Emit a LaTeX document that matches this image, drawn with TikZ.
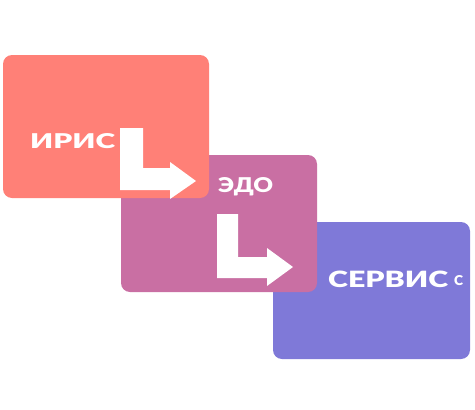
\documentclass[tikz,border=0pt]{standalone}
\usepackage{fontspec}
\usepackage{graphicx}
\setmainfont{DejaVu Sans}
\newfontfamily\heavy{Lato Black}
\definecolor{cRed}{HTML}{FF8077}
\definecolor{cPink}{HTML}{C96FA3}
\definecolor{cViolet}{HTML}{7F79D8}
\newcommand\lbl[3]{\resizebox{#1pt}{#2pt}{\heavy #3}}
\tikzset{
  card/.style={rounded corners=9pt},
  lab/.style={inner sep=0pt, anchor=base west, text=white},
  lshape/.style={fill=white}
}
\begin{document}
\begin{tikzpicture}[x=1pt,y=-1pt]
\useasboundingbox (0,0) rectangle (475,410);
% cards
\fill[card, cViolet] (273,222) rectangle (470,359);
\fill[card, cPink] (121,155) rectangle (317,292);
\fill[card, cRed] (3,55) rectangle (209,198);
% bent arrows
\fill[lshape] (120,128) -- (143,128) -- (143,168) -- (170,168) -- (170,162) -- (196,181) -- (170,199) -- (170,190) -- (120,190) -- cycle;
\fill[lshape] (217,214) -- (238,214) -- (238,257) -- (267,257) -- (267,248) -- (293,267) -- (267,286) -- (267,278) -- (217,278) -- cycle;
% labels
\node[lab] (iris) at (30,148) {\lbl{85}{15}{ИРИС}};
\node[lab] (edo) at (218,192) {\lbl{55}{15}{ЭДО}};
\node[lab] (servis) at (328,287) {\lbl{120}{16.5}{СЕРВИС}};
\node[lab] (c) at (454,285) {\lbl{9}{10}{С}};
\end{tikzpicture}
\end{document}
